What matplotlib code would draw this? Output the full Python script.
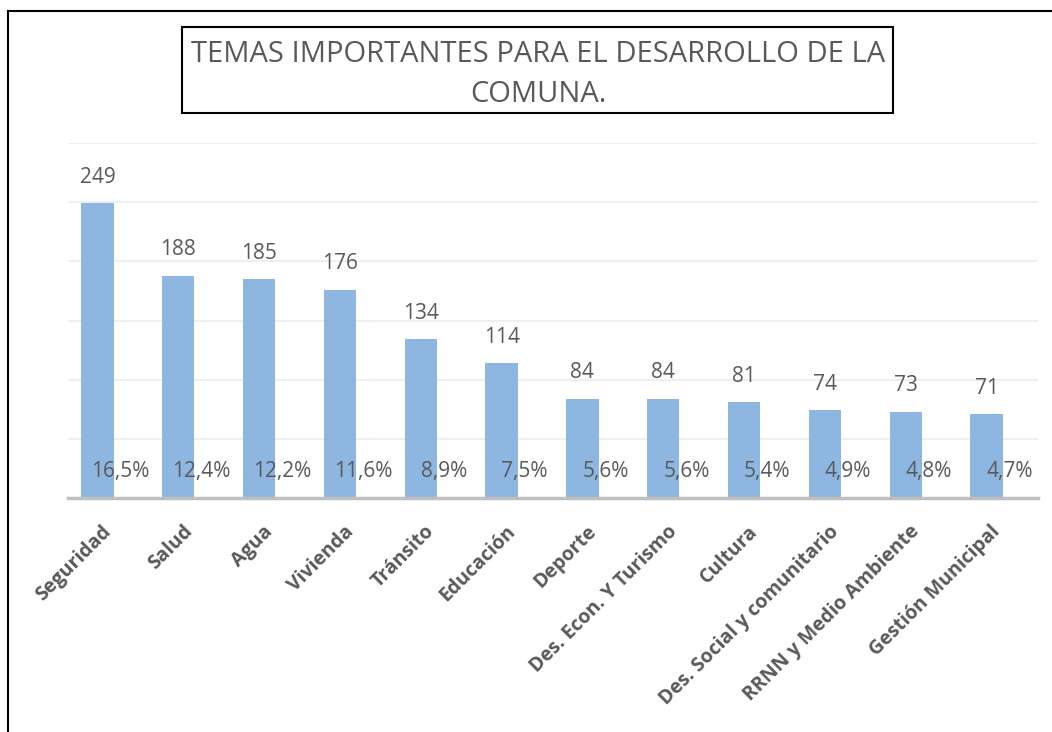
import matplotlib.pyplot as plt
from matplotlib.patches import Rectangle
from matplotlib.lines import Line2D
import numpy as np

categorias = ['Seguridad', 'Salud', 'Agua', 'Vivienda', 'Tránsito', 'Educación',
              'Deporte', 'Des. Econ. Y Turismo', 'Cultura',
              'Des. Social y comunitario', 'RRNN y Medio Ambiente', 'Gestión Municipal']
valores = [249, 188, 185, 176, 134, 114, 84, 84, 81, 74, 73, 71]
porcentajes = ['16,5%', '12,4%', '12,2%', '11,6%', '8,9%', '7,5%',
               '5,6%', '5,6%', '5,4%', '4,9%', '4,8%', '4,7%']

gris = '#595959'
azul = '#8db6e1'
plt.rcParams['font.family'] = ['Open Sans', 'DejaVu Sans']

fig = plt.figure(figsize=(10.52, 7.32), dpi=100)
ax = fig.add_axes([68 / 1052, (732 - 498) / 732, 970 / 1052, 355 / 732])

x = np.arange(len(categorias))
ax.bar(x - 0.136, valores, width=0.40, color=azul, zorder=3)
for xi, v, p in zip(x, valores, porcentajes):
    ax.text(xi - 0.136, v + 13, str(v), ha='center', va='bottom',
            fontsize=15, color=gris)
    ax.text(xi + 0.15, 22, p, ha='center', va='center', fontsize=15, color=gris, zorder=4)

ax.set_xlim(-0.5, len(categorias) - 0.5)
ax.set_ylim(0, 300)
ax.set_yticks(np.arange(0, 301, 50))
ax.set_yticklabels([])
ax.grid(axis='y', color='#ececec', lw=1.2, zorder=0)
ax.tick_params(axis='both', length=0)
for s in ['top', 'right', 'left']:
    ax.spines[s].set_visible(False)
ax.spines['bottom'].set_color('#bfbfbf')
ax.spines['bottom'].set_linewidth(2.5)
ax.spines['bottom'].set_zorder(5)

ax.set_xticks(x)
ax.set_xticklabels(categorias, rotation=45, ha='right', va='center',
                   rotation_mode='anchor', fontsize=14, fontweight='bold', color=gris)
ax.tick_params(axis='x', pad=22)

# marco exterior
fig.add_artist(Line2D([8 / 1052, 8 / 1052], [0, 1 - 11 / 732], color='black', lw=1.5))
fig.add_artist(Line2D([8 / 1052, 1], [1 - 11 / 732, 1 - 11 / 732], color='black', lw=1.5))

# cuadro del titulo
fig.add_artist(Rectangle((182 / 1052, (732 - 113) / 732), 711 / 1052, 86 / 732,
                         fill=False, edgecolor='black', lw=1.5))
fig.text(538 / 1052, 1 - 55 / 732, 'TEMAS IMPORTANTES PARA EL DESARROLLO DE LA',
         ha='center', va='center', fontsize=21, color=gris)
fig.text(538 / 1052, 1 - 95 / 732, 'COMUNA.', ha='center', va='center',
         fontsize=21, color=gris)

fig.savefig('out.png', dpi=100)
